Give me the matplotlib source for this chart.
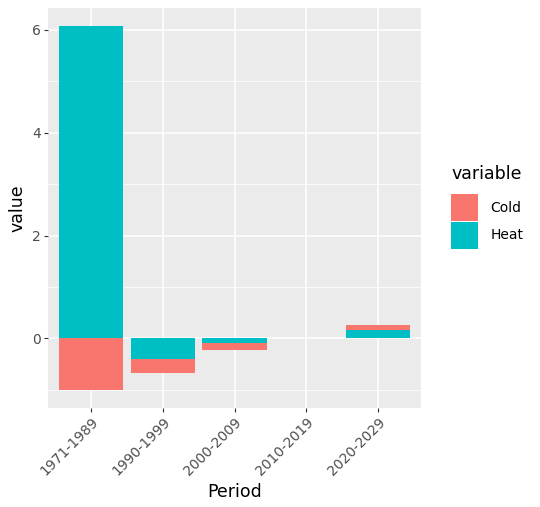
import numpy as np
import matplotlib.pyplot as plt
from matplotlib.patches import Patch

# data
periods = ['1971-1989', '1990-1999', '2000-2009', '2010-2019', '2020-2029']
heat = [6.08, -0.40, -0.09, 0.0, 0.16]
cold = [-1.00, -0.28, -0.13, 0.0, 0.10]

col_cold = '#F8766D'
col_heat = '#00BFC4'

fig = plt.figure(figsize=(5.4, 5.07), dpi=100)
ax = fig.add_axes([0.089, 0.195, 0.691, 0.79])
ax.set_facecolor('#EBEBEB')

x = np.arange(1, len(periods) + 1)
heat = np.array(heat)
cold = np.array(cold)

# stack heat first, cold on top (positive and negative stacked separately)
pos_base = np.zeros(len(x))
neg_base = np.zeros(len(x))
for vals, col in [(heat, col_heat), (cold, col_cold)]:
    bottoms = np.where(vals >= 0, pos_base, neg_base)
    ax.bar(x, vals, bottom=bottoms, width=0.9, color=col, zorder=3)
    pos_base = pos_base + np.where(vals >= 0, vals, 0)
    neg_base = neg_base + np.where(vals < 0, vals, 0)

lo = min(neg_base.min(), 0)
hi = max(pos_base.max(), 0)
pad = (hi - lo) * 0.05
ax.set_ylim(lo - pad, hi + pad)
ax.set_xlim(0.4, len(x) + 0.6)

ax.set_yticks([0, 2, 4, 6])
ax.set_yticks([-1, 1, 3, 5], minor=True)
ax.set_xticks(x)
ax.set_xticklabels(periods, rotation=45, ha='right', rotation_mode='anchor')

ax.grid(True, which='major', color='white', linewidth=1.1, zorder=0)
ax.grid(True, which='minor', axis='y', color='white', linewidth=0.55, zorder=0)
ax.set_axisbelow(True)
for s in ax.spines.values():
    s.set_visible(False)
ax.tick_params(which='major', length=3, width=0.8, color='#333333',
               labelsize=10, labelcolor='#4D4D4D', pad=2)
ax.tick_params(which='minor', length=0)

ax.set_xlabel('Period', fontsize=12.5, labelpad=3)
ax.set_ylabel('value', fontsize=12.5, labelpad=4)

handles = [Patch(facecolor=col_cold, edgecolor='none', label='Cold'),
           Patch(facecolor=col_heat, edgecolor='none', label='Heat')]
leg = fig.legend(handles=handles, title='variable', loc='center left',
                 bbox_to_anchor=(0.818, 0.592), frameon=False, fontsize=10,
                 title_fontsize=12.5, handlelength=1.9, handleheight=2.6,
                 handletextpad=0.9, labelspacing=0.05, borderpad=0.2)
leg._legend_box.align = 'left'
leg._legend_box.sep = 8

fig.savefig('out.png', dpi=100)
